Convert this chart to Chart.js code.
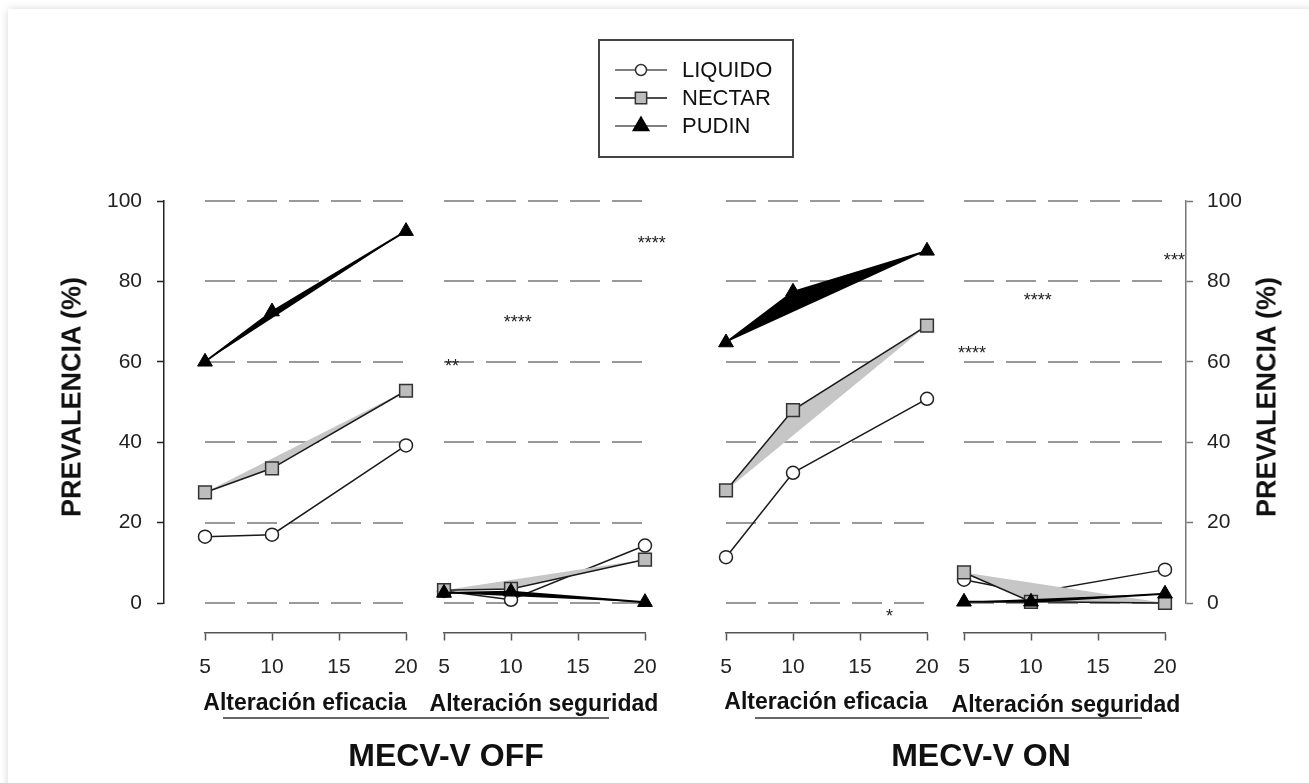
<!DOCTYPE html>
<html lang="es">
<head>
<meta charset="utf-8">
<title>Prevalencia según consistencia</title>
<script src="https://cdn.jsdelivr.net/npm/chart.js@4.4.1/dist/chart.umd.min.js"></script>
<style>
    body { margin: 0; background: #fff; font-family: "Liberation Sans", Arial, sans-serif; color: #111; }
    #page { position: relative; width: 1309px; height: 783px; overflow: hidden; background: #fff; }
    .card { position: absolute; left: 8px; top: 9px; width: 1400px; height: 900px; background: #fff; box-shadow: 0 0 8px rgba(0,0,0,0.16); }
    .plot { position: absolute; left: 0; top: 0; }
    .c { position: absolute; transform: translate(-50%, -50%); white-space: nowrap; line-height: 1; }
    .grupo { font-weight: bold; font-size: 23px; }
    .titulo { font-weight: bold; font-size: 32px; }
    .eje { font-weight: bold; font-size: 27px; transform: translate(-50%, -50%) rotate(-90deg); }
    .raya { position: absolute; height: 1.5px; background: #666; }
    .leyenda { position: absolute; left: 598px; top: 39px; width: 196px; height: 119px; box-sizing: border-box; border: 2px solid #444; }
    .ley { position: absolute; left: 682px; transform: translateY(-50%); font-size: 22px; line-height: 1; }
</style>
</head>
<body>
<div id="page">
    <div class="card"></div>

    <canvas id="ejeIzq" class="plot" width="1309" height="783"></canvas>
    <canvas id="ejeDer" class="plot" width="1309" height="783"></canvas>
    <canvas id="p0" class="plot" width="1309" height="783"></canvas>
    <canvas id="p1" class="plot" width="1309" height="783"></canvas>
    <canvas id="p2" class="plot" width="1309" height="783"></canvas>
    <canvas id="p3" class="plot" width="1309" height="783"></canvas>

    <div class="leyenda"></div>
    <canvas id="leyMarcas" class="plot" style="left:600px;top:50px" width="80" height="90"></canvas>
    <div class="ley" style="top:70px">LIQUIDO</div>
    <div class="ley" style="top:98px">NECTAR</div>
    <div class="ley" style="top:126px">PUDIN</div>

    <div class="c eje" style="left:72px;top:397px">PREVALENCIA (%)</div>
    <div class="c eje" style="left:1267px;top:397px">PREVALENCIA (%)</div>

    <div class="c grupo" style="left:305px;top:702px">Alteración eficacia</div>
    <div class="c grupo" style="left:544px;top:703px">Alteración seguridad</div>
    <div class="c grupo" style="left:826px;top:701px">Alteración eficacia</div>
    <div class="c grupo" style="left:1066px;top:704px">Alteración seguridad</div>
    <div class="raya" style="left:223px;top:717px;width:386px"></div>
    <div class="raya" style="left:755px;top:717px;width:387px"></div>

    <div class="c titulo" style="left:446px;top:755px">MECV-V OFF</div>
    <div class="c titulo" style="left:981px;top:755px">MECV-V ON</div>
</div>

<script>
        // --- Datos ---
        const DOSIS = [5, 10, 20];
        const TICKS_X = [5, 10, 15, 20];
        const TICKS_Y = [0, 20, 40, 60, 80, 100];

        // MECV-V OFF, alteración eficacia
        const liquidoOffEf = [16.5, 17, 39.2];
        const nectarOffEf = [27.5, 33.5, 52.8];
        const pudinOffEf = [60, 72.5, 92.5];

        // MECV-V OFF, alteración seguridad
        const liquidoOffSeg = [3, 0.8, 14.3];
        const nectarOffSeg = [3.2, 3.5, 10.8];
        const pudinOffSeg = [2.5, 2.8, 0.2];

        // MECV-V ON, alteración eficacia
        const liquidoOnEf = [11.4, 32.4, 50.8];
        const nectarOnEf = [28, 48, 69];
        const pudinOnEf = [64.8, 77.4, 87.6];

        // MECV-V ON, alteración seguridad
        const liquidoOnSeg = [5.8, 2.5, 8.3];
        const nectarOnSeg = [7.6, 0.3, 0];
        const pudinOnSeg = [0.3, 0.3, 2.3];

        // asteriscos de significación: [texto, dosis, prevalencia]
        const notasOffSeg = [['**', 5.6, 60], ['****', 10.5, 71], ['****', 20.5, 90.7]];
        const notasOnEf = [['*', 17.2, -2]];
        const notasOnSeg = [['****', 5.6, 63.4], ['****', 10.5, 76.4], ['***', 20.7, 86.4]];

        // --- Geometría de la página ---
        const ANCHO = 1309, ALTO = 783;
        const ARRIBA = 201, ABAJO = 180;   // márgenes del área 0-100
        const ANCHO_PANEL = 201;

        const paneles = [
            { id: 'p0', left: 205, liq: liquidoOffEf, nec: nectarOffEf, pud: pudinOffEf, notas: [] },
            { id: 'p1', left: 444, liq: liquidoOffSeg, nec: nectarOffSeg, pud: pudinOffSeg, notas: notasOffSeg },
            { id: 'p2', left: 726, liq: liquidoOnEf, nec: nectarOnEf, pud: pudinOnEf, notas: notasOnEf },
            { id: 'p3', left: 964, liq: liquidoOnSeg, nec: nectarOnSeg, pud: pudinOnSeg, notas: notasOnSeg }
        ];

        Chart.defaults.font.family = '"Liberation Sans", Arial, sans-serif';
        Chart.defaults.color = '#222';

        const puntos = serie => serie.map((v, i) => ({ x: DOSIS[i], y: v }));
        // recta entre el primer y el último punto, límite del sombreado
        const cuerda = serie => [
            { x: DOSIS[0], y: serie[0] },
            { x: DOSIS[DOSIS.length - 1], y: serie[serie.length - 1] }
        ];

        function notasPlugin(notas) {
            return {
                id: 'notas',
                afterDatasetsDraw(chart) {
                    const { ctx, scales: { x, y } } = chart;
                    ctx.save();
                    ctx.font = '18px "Liberation Sans", Arial, sans-serif';
                    ctx.fillStyle = '#222';
                    ctx.textAlign = 'center';
                    ctx.textBaseline = 'alphabetic';
                    notas.forEach(([txt, dx, dy]) => {
                        ctx.fillText(txt, x.getPixelForValue(dx), y.getPixelForValue(dy) + 10.5);
                    });
                    ctx.restore();
                }
            };
        }

        const base = {
            responsive: false,
            animation: false,
            devicePixelRatio: 1,
            events: [],
            plugins: { legend: { display: false }, tooltip: { enabled: false } }
        };

        // --- Paneles ---
        paneles.forEach(p => {
            new Chart(document.getElementById(p.id), {
                type: 'line',
                data: {
                    datasets: [
                        {
                            label: 'PUDIN', data: puntos(p.pud), clip: false, tension: 0,
                            borderColor: '#000', borderWidth: 2, backgroundColor: '#000', fill: 3,
                            pointStyle: 'triangle', pointRadius: 8.5, pointBackgroundColor: '#000',
                            pointBorderColor: '#000', pointBorderWidth: 1
                        },
                        {
                            label: 'NECTAR', data: puntos(p.nec), clip: false, tension: 0,
                            borderColor: '#1a1a1a', borderWidth: 1.5, backgroundColor: '#c6c6c6', fill: 4,
                            pointStyle: 'rect', pointRadius: 9, pointBackgroundColor: '#bdbdbd',
                            pointBorderColor: '#333', pointBorderWidth: 1.5
                        },
                        {
                            label: 'LIQUIDO', data: puntos(p.liq), clip: false, tension: 0,
                            borderColor: '#1a1a1a', borderWidth: 1.5, fill: false,
                            pointStyle: 'circle', pointRadius: 6.5, pointBackgroundColor: '#fff',
                            pointBorderColor: '#222', pointBorderWidth: 1.5
                        },
                        { data: cuerda(p.pud), borderWidth: 0, borderColor: 'rgba(0,0,0,0)', pointRadius: 0, fill: false },
                        { data: cuerda(p.nec), borderWidth: 0, borderColor: 'rgba(0,0,0,0)', pointRadius: 0, fill: false }
                    ]
                },
                options: {
                    ...base,
                    layout: { padding: { left: p.left, right: ANCHO - p.left - ANCHO_PANEL, top: ARRIBA, bottom: ABAJO } },
                    scales: {
                        x: {
                            type: 'linear', min: 5, max: 20,
                            position: { y: -7.3 },
                            afterBuildTicks: s => { s.ticks = TICKS_X.map(v => ({ value: v })); },
                            ticks: { font: { size: 21 }, color: '#222', padding: 15, maxRotation: 0, autoSkip: false },
                            grid: { drawOnChartArea: false, drawTicks: true, tickLength: 7, tickColor: '#555', tickWidth: 1.5 },
                            border: { display: true, color: '#555', width: 1.5 }
                        },
                        y: {
                            min: 0, max: 100, position: 'left',
                            afterBuildTicks: s => { s.ticks = TICKS_Y.map(v => ({ value: v })); },
                            afterFit: s => { s.width = 0; },
                            ticks: { display: false },
                            grid: { drawTicks: false, color: '#999', lineWidth: 2 },
                            border: { display: false, dash: [30, 12] }
                        }
                    }
                },
                plugins: [notasPlugin(p.notas)]
            });
        });

        // --- Ejes de prevalencia (izquierda y derecha) ---
        function ejeY(canvasId, lado, xEje, colorEje) {
            const W = 60;
            const padding = lado === 'left'
                ? { left: xEje - W, right: ANCHO - xEje - 50, top: ARRIBA, bottom: ABAJO }
                : { left: xEje - 50, right: ANCHO - xEje - W, top: ARRIBA, bottom: ABAJO };
            new Chart(document.getElementById(canvasId), {
                type: 'line',
                data: { datasets: [] },
                options: {
                    ...base,
                    layout: { padding },
                    scales: {
                        x: { type: 'linear', display: false, min: 0, max: 1 },
                        y: {
                            min: 0, max: 100, position: lado,
                            afterBuildTicks: s => { s.ticks = TICKS_Y.map(v => ({ value: v })); },
                            afterFit: s => { s.width = W; },
                            ticks: { font: { size: 21 }, color: '#222', padding: lado === 'left' ? 15 : 14 },
                            grid: { drawOnChartArea: false, tickLength: 7, tickColor: colorEje, tickWidth: 1.5 },
                            border: { display: true, color: colorEje, width: 1.5 }
                        }
                    }
                }
            });
        }
        ejeY('ejeIzq', 'left', 164, '#222');
        ejeY('ejeDer', 'right', 1186, '#777');

        // --- Marcas de la leyenda ---
        const lctx = document.getElementById('leyMarcas').getContext('2d');
        const marcas = [
            { y: 20, linea: '#555', estilo: 'circle', r: 5.5, relleno: '#fff', borde: '#333' },
            { y: 48, linea: '#111', estilo: 'rect', r: 8, relleno: '#bdbdbd', borde: '#333' },
            { y: 76, linea: '#555', estilo: 'triangle', r: 9, relleno: '#000', borde: '#000' }
        ];
        marcas.forEach(m => {
            lctx.strokeStyle = m.linea;
            lctx.lineWidth = 1.5;
            lctx.beginPath();
            lctx.moveTo(15, m.y);
            lctx.lineTo(67, m.y);
            lctx.stroke();
            lctx.fillStyle = m.relleno;
            lctx.strokeStyle = m.borde;
            lctx.lineWidth = 1.5;
            Chart.helpers.drawPoint(lctx, { pointStyle: m.estilo, radius: m.r, borderWidth: 1.5, rotation: 0 }, 41, m.y);
        });
</script>
</body>
</html>
